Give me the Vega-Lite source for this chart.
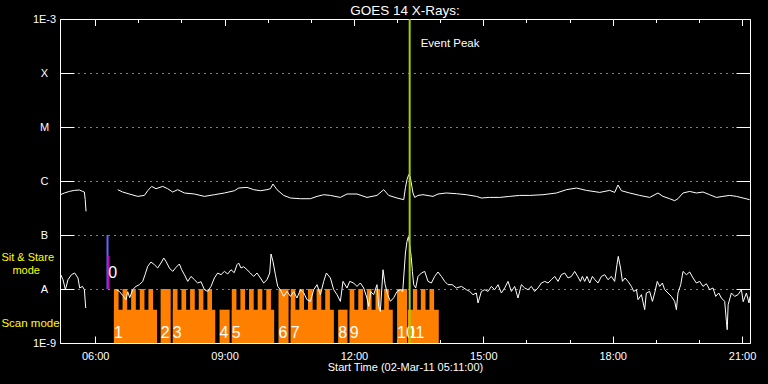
{
  "$schema": "https://vega.github.io/schema/vega-lite/v6.json",
  "width": 690,
  "height": 324,
  "autosize": {"type": "none"},
  "padding": {"left": 60, "top": 19, "right": 18, "bottom": 41},
  "background": "black",
  "title": {"text": "GOES 14 X-Rays:", "color": "white", "font": "Liberation Sans", "fontSize": 13.5, "fontWeight": "normal", "anchor": "middle", "offset": -4},
  "config": {
    "view": {"stroke": null},
    "axis": {"labelFont": "Liberation Sans", "labelColor": "white", "labelFontSize": 11, "tickColor": "white", "tickWidth": 1, "domainColor": "white", "domainWidth": 1, "titleFont": "Liberation Sans", "titleColor": "white", "titleFontWeight": "normal", "titleFontSize": 11, "zindex": 1, "grid": false, "labelFlush": false, "labelOverlap": false, "labelBound": false}
  },
  "datasets": {
    "blocks": [
      {"block": "1", "start": 386, "end": 446, "level": -8.383},
      {"block": "2", "start": 451, "end": 465, "level": -8},
      {"block": "3", "start": 468, "end": 527, "level": -8.383},
      {"block": "4", "start": 533, "end": 547, "level": -8.383},
      {"block": "5", "start": 550, "end": 609, "level": -8.383},
      {"block": "6", "start": 615, "end": 629, "level": -8},
      {"block": "7", "start": 632, "end": 692, "level": -8.383},
      {"block": "8", "start": 698, "end": 711, "level": -8.383},
      {"block": "9", "start": 714, "end": 774, "level": -8.383},
      {"block": "10", "start": 780, "end": 794, "level": -8},
      {"block": "11", "start": 795, "end": 838, "level": -8.383}
    ],
    "teeth": [
      {"start": 386, "end": 392.5}, {"start": 398, "end": 404.5}, {"start": 410, "end": 416.5}, {"start": 422, "end": 428.5}, {"start": 434, "end": 440.5},
      {"start": 468, "end": 474.5}, {"start": 480, "end": 486.5}, {"start": 492, "end": 498.5}, {"start": 504, "end": 510.5}, {"start": 516, "end": 522.5},
      {"start": 550, "end": 556.5}, {"start": 562, "end": 568.5}, {"start": 574, "end": 580.5}, {"start": 586, "end": 592.5}, {"start": 598, "end": 604.5},
      {"start": 632, "end": 638.5}, {"start": 644, "end": 650.5}, {"start": 656, "end": 662.5}, {"start": 668, "end": 674.5}, {"start": 680, "end": 686.5},
      {"start": 714, "end": 720.5}, {"start": 726, "end": 732.5}, {"start": 738, "end": 744.5}, {"start": 750, "end": 756.5}, {"start": 762, "end": 768.5},
      {"start": 802, "end": 808}, {"start": 813, "end": 819.5}, {"start": 825, "end": 831.5}
    ],
    "xray": [
      {"series": "long-a", "time": 311.6, "logflux": -6.254},
      {"series": "long-a", "time": 317.1, "logflux": -6.222},
      {"series": "long-a", "time": 324.1, "logflux": -6.193},
      {"series": "long-a", "time": 331.0, "logflux": -6.174},
      {"series": "long-a", "time": 338.0, "logflux": -6.167},
      {"series": "long-a", "time": 342.6, "logflux": -6.193},
      {"series": "long-a", "time": 344.9, "logflux": -6.204},
      {"series": "long-a", "time": 346.1, "logflux": -6.346},
      {"series": "long-a", "time": 347.2, "logflux": -6.563},
      {"series": "long-b", "time": 391.3, "logflux": -6.161},
      {"series": "long-b", "time": 398.2, "logflux": -6.204},
      {"series": "long-b", "time": 407.5, "logflux": -6.241},
      {"series": "long-b", "time": 419.1, "logflux": -6.285},
      {"series": "long-b", "time": 428.4, "logflux": -6.267},
      {"series": "long-b", "time": 433.0, "logflux": -6.180},
      {"series": "long-b", "time": 438.6, "logflux": -6.100},
      {"series": "long-b", "time": 444.6, "logflux": -6.143},
      {"series": "long-b", "time": 453.9, "logflux": -6.100},
      {"series": "long-b", "time": 460.8, "logflux": -6.143},
      {"series": "long-b", "time": 467.8, "logflux": -6.204},
      {"series": "long-b", "time": 474.7, "logflux": -6.161},
      {"series": "long-b", "time": 484.1, "logflux": -6.222},
      {"series": "long-b", "time": 498.0, "logflux": -6.241},
      {"series": "long-b", "time": 511.9, "logflux": -6.285},
      {"series": "long-b", "time": 525.8, "logflux": -6.254},
      {"series": "long-b", "time": 539.7, "logflux": -6.222},
      {"series": "long-b", "time": 553.6, "logflux": -6.180},
      {"series": "long-b", "time": 559.6, "logflux": -6.130},
      {"series": "long-b", "time": 571.2, "logflux": -6.118},
      {"series": "long-b", "time": 580.5, "logflux": -6.161},
      {"series": "long-b", "time": 589.8, "logflux": -6.180},
      {"series": "long-b", "time": 599.0, "logflux": -6.161},
      {"series": "long-b", "time": 603.7, "logflux": -6.143},
      {"series": "long-b", "time": 607.3, "logflux": -6.056},
      {"series": "long-b", "time": 612.9, "logflux": -6.161},
      {"series": "long-b", "time": 622.2, "logflux": -6.267},
      {"series": "long-b", "time": 631.6, "logflux": -6.315},
      {"series": "long-b", "time": 645.5, "logflux": -6.328},
      {"series": "long-b", "time": 659.4, "logflux": -6.328},
      {"series": "long-b", "time": 668.6, "logflux": -6.285},
      {"series": "long-b", "time": 677.9, "logflux": -6.254},
      {"series": "long-b", "time": 687.2, "logflux": -6.267},
      {"series": "long-b", "time": 701.1, "logflux": -6.304},
      {"series": "long-b", "time": 710.3, "logflux": -6.241},
      {"series": "long-b", "time": 724.2, "logflux": -6.241},
      {"series": "long-b", "time": 738.1, "logflux": -6.304},
      {"series": "long-b", "time": 752.0, "logflux": -6.267},
      {"series": "long-b", "time": 761.4, "logflux": -6.161},
      {"series": "long-b", "time": 768.3, "logflux": -6.267},
      {"series": "long-b", "time": 779.9, "logflux": -6.315},
      {"series": "long-b", "time": 789.2, "logflux": -6.346},
      {"series": "long-b", "time": 791.6, "logflux": -6.124},
      {"series": "long-b", "time": 793.8, "logflux": -5.976},
      {"series": "long-b", "time": 796.1, "logflux": -5.883},
      {"series": "long-b", "time": 798.2, "logflux": -5.915},
      {"series": "long-b", "time": 802.1, "logflux": -6.222},
      {"series": "long-b", "time": 804.5, "logflux": -6.304},
      {"series": "long-b", "time": 809.1, "logflux": -6.267},
      {"series": "long-b", "time": 816.0, "logflux": -6.254},
      {"series": "long-b", "time": 830.0, "logflux": -6.285},
      {"series": "long-b", "time": 836.9, "logflux": -6.241},
      {"series": "long-b", "time": 848.6, "logflux": -6.222},
      {"series": "long-b", "time": 862.5, "logflux": -6.235},
      {"series": "long-b", "time": 876.4, "logflux": -6.254},
      {"series": "long-b", "time": 890.3, "logflux": -6.285},
      {"series": "long-b", "time": 897.3, "logflux": -6.315},
      {"series": "long-b", "time": 908.8, "logflux": -6.304},
      {"series": "long-b", "time": 922.8, "logflux": -6.304},
      {"series": "long-b", "time": 936.7, "logflux": -6.285},
      {"series": "long-b", "time": 950.6, "logflux": -6.267},
      {"series": "long-b", "time": 964.5, "logflux": -6.267},
      {"series": "long-b", "time": 983.0, "logflux": -6.254},
      {"series": "long-b", "time": 1001.6, "logflux": -6.222},
      {"series": "long-b", "time": 1015.6, "logflux": -6.161},
      {"series": "long-b", "time": 1029.5, "logflux": -6.130},
      {"series": "long-b", "time": 1043.4, "logflux": -6.174},
      {"series": "long-b", "time": 1061.9, "logflux": -6.211},
      {"series": "long-b", "time": 1075.8, "logflux": -6.174},
      {"series": "long-b", "time": 1082.8, "logflux": -6.211},
      {"series": "long-b", "time": 1087.3, "logflux": -6.074},
      {"series": "long-b", "time": 1092.1, "logflux": -6.180},
      {"series": "long-b", "time": 1103.6, "logflux": -6.222},
      {"series": "long-b", "time": 1117.5, "logflux": -6.267},
      {"series": "long-b", "time": 1131.4, "logflux": -6.304},
      {"series": "long-b", "time": 1143.0, "logflux": -6.222},
      {"series": "long-b", "time": 1149.9, "logflux": -6.285},
      {"series": "long-b", "time": 1159.3, "logflux": -6.328},
      {"series": "long-b", "time": 1166.2, "logflux": -6.365},
      {"series": "long-b", "time": 1170.8, "logflux": -6.328},
      {"series": "long-b", "time": 1177.8, "logflux": -6.222},
      {"series": "long-b", "time": 1187.1, "logflux": -6.193},
      {"series": "long-b", "time": 1196.4, "logflux": -6.222},
      {"series": "long-b", "time": 1205.6, "logflux": -6.204},
      {"series": "long-b", "time": 1214.9, "logflux": -6.254},
      {"series": "long-b", "time": 1224.2, "logflux": -6.304},
      {"series": "long-b", "time": 1233.4, "logflux": -6.285},
      {"series": "long-b", "time": 1242.8, "logflux": -6.267},
      {"series": "long-b", "time": 1252.1, "logflux": -6.285},
      {"series": "long-b", "time": 1261.3, "logflux": -6.315},
      {"series": "long-b", "time": 1270.6, "logflux": -6.346},
      {"series": "short-a", "time": 312.0, "logflux": -7.735},
      {"series": "short-a", "time": 315.2, "logflux": -7.828},
      {"series": "short-a", "time": 318.5, "logflux": -8.013},
      {"series": "short-a", "time": 322.1, "logflux": -7.828},
      {"series": "short-a", "time": 326.9, "logflux": -7.735},
      {"series": "short-a", "time": 331.4, "logflux": -7.704},
      {"series": "short-a", "time": 336.0, "logflux": -7.796},
      {"series": "short-a", "time": 338.4, "logflux": -7.981},
      {"series": "short-a", "time": 342.2, "logflux": -7.952},
      {"series": "short-a", "time": 344.9, "logflux": -8.013},
      {"series": "short-a", "time": 346.8, "logflux": -8.352},
      {"series": "short-b", "time": 389.5, "logflux": -8.013},
      {"series": "short-b", "time": 393.6, "logflux": -8.045},
      {"series": "short-b", "time": 398.2, "logflux": -8.119},
      {"series": "short-b", "time": 402.8, "logflux": -8.198},
      {"series": "short-b", "time": 405.2, "logflux": -8.050},
      {"series": "short-b", "time": 408.0, "logflux": -8.161},
      {"series": "short-b", "time": 412.1, "logflux": -8.013},
      {"series": "short-b", "time": 416.7, "logflux": -7.952},
      {"series": "short-b", "time": 421.5, "logflux": -7.920},
      {"series": "short-b", "time": 426.1, "logflux": -7.859},
      {"series": "short-b", "time": 429.3, "logflux": -7.735},
      {"series": "short-b", "time": 433.0, "logflux": -7.581},
      {"series": "short-b", "time": 437.6, "logflux": -7.500},
      {"series": "short-b", "time": 442.3, "logflux": -7.550},
      {"series": "short-b", "time": 446.9, "logflux": -7.611},
      {"series": "short-b", "time": 451.5, "logflux": -7.519},
      {"series": "short-b", "time": 455.3, "logflux": -7.426},
      {"series": "short-b", "time": 458.5, "logflux": -7.489},
      {"series": "short-b", "time": 463.2, "logflux": -7.611},
      {"series": "short-b", "time": 467.8, "logflux": -7.674},
      {"series": "short-b", "time": 472.4, "logflux": -7.600},
      {"series": "short-b", "time": 477.1, "logflux": -7.537},
      {"series": "short-b", "time": 480.3, "logflux": -7.643},
      {"series": "short-b", "time": 484.1, "logflux": -7.735},
      {"series": "short-b", "time": 488.7, "logflux": -7.859},
      {"series": "short-b", "time": 493.3, "logflux": -7.767},
      {"series": "short-b", "time": 498.0, "logflux": -7.828},
      {"series": "short-b", "time": 502.6, "logflux": -7.889},
      {"series": "short-b", "time": 507.2, "logflux": -7.865},
      {"series": "short-b", "time": 511.9, "logflux": -8.013},
      {"series": "short-b", "time": 516.5, "logflux": -8.045},
      {"series": "short-b", "time": 521.1, "logflux": -7.952},
      {"series": "short-b", "time": 525.8, "logflux": -7.796},
      {"series": "short-b", "time": 530.4, "logflux": -7.704},
      {"series": "short-b", "time": 535.0, "logflux": -7.735},
      {"series": "short-b", "time": 539.7, "logflux": -7.674},
      {"series": "short-b", "time": 544.3, "logflux": -7.722},
      {"series": "short-b", "time": 548.9, "logflux": -7.643},
      {"series": "short-b", "time": 553.4, "logflux": -7.698},
      {"series": "short-b", "time": 557.3, "logflux": -7.550},
      {"series": "short-b", "time": 559.6, "logflux": -7.519},
      {"series": "short-b", "time": 562.8, "logflux": -7.611},
      {"series": "short-b", "time": 566.6, "logflux": -7.587},
      {"series": "short-b", "time": 571.2, "logflux": -7.643},
      {"series": "short-b", "time": 575.9, "logflux": -7.704},
      {"series": "short-b", "time": 580.5, "logflux": -7.767},
      {"series": "short-b", "time": 585.1, "logflux": -7.704},
      {"series": "short-b", "time": 589.8, "logflux": -7.796},
      {"series": "short-b", "time": 594.4, "logflux": -7.889},
      {"series": "short-b", "time": 599.0, "logflux": -7.828},
      {"series": "short-b", "time": 602.8, "logflux": -7.704},
      {"series": "short-b", "time": 604.6, "logflux": -7.352},
      {"series": "short-b", "time": 607.3, "logflux": -7.489},
      {"series": "short-b", "time": 610.7, "logflux": -7.735},
      {"series": "short-b", "time": 613.9, "logflux": -7.952},
      {"series": "short-b", "time": 617.6, "logflux": -8.013},
      {"series": "short-b", "time": 622.2, "logflux": -8.137},
      {"series": "short-b", "time": 626.8, "logflux": -8.045},
      {"series": "short-b", "time": 631.6, "logflux": -8.137},
      {"series": "short-b", "time": 636.2, "logflux": -8.050},
      {"series": "short-b", "time": 640.7, "logflux": -8.167},
      {"series": "short-b", "time": 645.5, "logflux": -8.013},
      {"series": "short-b", "time": 650.1, "logflux": -8.068},
      {"series": "short-b", "time": 654.6, "logflux": -8.198},
      {"series": "short-b", "time": 659.4, "logflux": -8.229},
      {"series": "short-b", "time": 664.0, "logflux": -8.013},
      {"series": "short-b", "time": 668.6, "logflux": -7.920},
      {"series": "short-b", "time": 673.3, "logflux": -8.105},
      {"series": "short-b", "time": 677.9, "logflux": -7.859},
      {"series": "short-b", "time": 681.6, "logflux": -7.704},
      {"series": "short-b", "time": 687.2, "logflux": -7.796},
      {"series": "short-b", "time": 691.8, "logflux": -8.013},
      {"series": "short-b", "time": 696.4, "logflux": -8.105},
      {"series": "short-b", "time": 701.1, "logflux": -8.229},
      {"series": "short-b", "time": 704.7, "logflux": -7.859},
      {"series": "short-b", "time": 710.3, "logflux": -7.981},
      {"series": "short-b", "time": 714.1, "logflux": -7.859},
      {"series": "short-b", "time": 719.6, "logflux": -7.889},
      {"series": "short-b", "time": 724.2, "logflux": -7.952},
      {"series": "short-b", "time": 728.9, "logflux": -7.889},
      {"series": "short-b", "time": 733.5, "logflux": -7.981},
      {"series": "short-b", "time": 738.1, "logflux": -8.167},
      {"series": "short-b", "time": 740.5, "logflux": -8.322},
      {"series": "short-b", "time": 743.3, "logflux": -8.050},
      {"series": "short-b", "time": 747.4, "logflux": -8.105},
      {"series": "short-b", "time": 752.0, "logflux": -7.920},
      {"series": "short-b", "time": 754.4, "logflux": -8.322},
      {"series": "short-b", "time": 756.7, "logflux": -8.415},
      {"series": "short-b", "time": 760.4, "logflux": -7.643},
      {"series": "short-b", "time": 763.4, "logflux": -7.920},
      {"series": "short-b", "time": 766.9, "logflux": -8.105},
      {"series": "short-b", "time": 770.7, "logflux": -8.229},
      {"series": "short-b", "time": 775.3, "logflux": -8.161},
      {"series": "short-b", "time": 779.9, "logflux": -8.045},
      {"series": "short-b", "time": 784.6, "logflux": -8.013},
      {"series": "short-b", "time": 787.8, "logflux": -8.050},
      {"series": "short-b", "time": 791.6, "logflux": -7.333},
      {"series": "short-b", "time": 793.8, "logflux": -7.119},
      {"series": "short-b", "time": 795.7, "logflux": -7.031},
      {"series": "short-b", "time": 797.5, "logflux": -7.180},
      {"series": "short-b", "time": 799.6, "logflux": -7.396},
      {"series": "short-b", "time": 801.3, "logflux": -7.674},
      {"series": "short-b", "time": 803.1, "logflux": -7.920},
      {"series": "short-b", "time": 805.9, "logflux": -7.981},
      {"series": "short-b", "time": 809.1, "logflux": -7.767},
      {"series": "short-b", "time": 813.8, "logflux": -7.704},
      {"series": "short-b", "time": 818.4, "logflux": -7.674},
      {"series": "short-b", "time": 823.0, "logflux": -7.859},
      {"series": "short-b", "time": 827.7, "logflux": -7.889},
      {"series": "short-b", "time": 832.3, "logflux": -7.767},
      {"series": "short-b", "time": 836.9, "logflux": -7.685},
      {"series": "short-b", "time": 841.6, "logflux": -7.767},
      {"series": "short-b", "time": 846.2, "logflux": -7.859},
      {"series": "short-b", "time": 850.8, "logflux": -7.920},
      {"series": "short-b", "time": 856.7, "logflux": -7.920},
      {"series": "short-b", "time": 862.5, "logflux": -7.981},
      {"series": "short-b", "time": 869.5, "logflux": -7.952},
      {"series": "short-b", "time": 876.4, "logflux": -8.013},
      {"series": "short-b", "time": 881.0, "logflux": -8.045},
      {"series": "short-b", "time": 885.6, "logflux": -8.105},
      {"series": "short-b", "time": 890.3, "logflux": -8.074},
      {"series": "short-b", "time": 892.6, "logflux": -8.259},
      {"series": "short-b", "time": 897.3, "logflux": -8.045},
      {"series": "short-b", "time": 901.9, "logflux": -8.013},
      {"series": "short-b", "time": 906.5, "logflux": -8.045},
      {"series": "short-b", "time": 911.2, "logflux": -7.952},
      {"series": "short-b", "time": 915.8, "logflux": -8.013},
      {"series": "short-b", "time": 920.4, "logflux": -7.920},
      {"series": "short-b", "time": 925.1, "logflux": -8.074},
      {"series": "short-b", "time": 929.7, "logflux": -7.981},
      {"series": "short-b", "time": 934.3, "logflux": -7.859},
      {"series": "short-b", "time": 939.0, "logflux": -8.045},
      {"series": "short-b", "time": 943.6, "logflux": -7.952},
      {"series": "short-b", "time": 948.2, "logflux": -8.167},
      {"series": "short-b", "time": 952.9, "logflux": -7.920},
      {"series": "short-b", "time": 957.5, "logflux": -7.981},
      {"series": "short-b", "time": 962.1, "logflux": -8.013},
      {"series": "short-b", "time": 966.8, "logflux": -7.952},
      {"series": "short-b", "time": 971.4, "logflux": -8.045},
      {"series": "short-b", "time": 976.0, "logflux": -7.981},
      {"series": "short-b", "time": 980.8, "logflux": -7.889},
      {"series": "short-b", "time": 985.4, "logflux": -7.859},
      {"series": "short-b", "time": 990.0, "logflux": -7.889},
      {"series": "short-b", "time": 994.7, "logflux": -7.828},
      {"series": "short-b", "time": 999.3, "logflux": -7.767},
      {"series": "short-b", "time": 1003.9, "logflux": -7.859},
      {"series": "short-b", "time": 1008.6, "logflux": -7.735},
      {"series": "short-b", "time": 1013.2, "logflux": -7.704},
      {"series": "short-b", "time": 1017.8, "logflux": -7.796},
      {"series": "short-b", "time": 1022.5, "logflux": -7.767},
      {"series": "short-b", "time": 1027.1, "logflux": -7.674},
      {"series": "short-b", "time": 1031.3, "logflux": -7.767},
      {"series": "short-b", "time": 1035.0, "logflux": -7.859},
      {"series": "short-b", "time": 1037.8, "logflux": -7.767},
      {"series": "short-b", "time": 1041.0, "logflux": -7.859},
      {"series": "short-b", "time": 1044.2, "logflux": -7.767},
      {"series": "short-b", "time": 1048.0, "logflux": -7.889},
      {"series": "short-b", "time": 1051.7, "logflux": -7.767},
      {"series": "short-b", "time": 1055.3, "logflux": -7.828},
      {"series": "short-b", "time": 1059.5, "logflux": -7.889},
      {"series": "short-b", "time": 1064.2, "logflux": -7.767},
      {"series": "short-b", "time": 1068.9, "logflux": -7.735},
      {"series": "short-b", "time": 1073.4, "logflux": -7.828},
      {"series": "short-b", "time": 1078.1, "logflux": -7.767},
      {"series": "short-b", "time": 1082.7, "logflux": -7.859},
      {"series": "short-b", "time": 1085.9, "logflux": -7.550},
      {"series": "short-b", "time": 1087.7, "logflux": -7.396},
      {"series": "short-b", "time": 1090.9, "logflux": -7.611},
      {"series": "short-b", "time": 1093.5, "logflux": -7.859},
      {"series": "short-b", "time": 1097.1, "logflux": -7.796},
      {"series": "short-b", "time": 1101.3, "logflux": -7.859},
      {"series": "short-b", "time": 1106.0, "logflux": -7.952},
      {"series": "short-b", "time": 1109.2, "logflux": -8.045},
      {"series": "short-b", "time": 1113.0, "logflux": -8.013},
      {"series": "short-b", "time": 1115.2, "logflux": -8.198},
      {"series": "short-b", "time": 1119.9, "logflux": -8.105},
      {"series": "short-b", "time": 1124.5, "logflux": -8.383},
      {"series": "short-b", "time": 1126.8, "logflux": -8.074},
      {"series": "short-b", "time": 1131.4, "logflux": -8.045},
      {"series": "short-b", "time": 1135.2, "logflux": -8.229},
      {"series": "short-b", "time": 1138.4, "logflux": -8.074},
      {"series": "short-b", "time": 1142.0, "logflux": -7.859},
      {"series": "short-b", "time": 1145.4, "logflux": -7.952},
      {"series": "short-b", "time": 1149.1, "logflux": -7.889},
      {"series": "short-b", "time": 1152.3, "logflux": -8.013},
      {"series": "short-b", "time": 1156.9, "logflux": -8.074},
      {"series": "short-b", "time": 1161.6, "logflux": -8.137},
      {"series": "short-b", "time": 1166.2, "logflux": -8.229},
      {"series": "short-b", "time": 1168.6, "logflux": -8.383},
      {"series": "short-b", "time": 1170.8, "logflux": -8.074},
      {"series": "short-b", "time": 1174.6, "logflux": -7.920},
      {"series": "short-b", "time": 1177.8, "logflux": -7.674},
      {"series": "short-b", "time": 1182.5, "logflux": -7.735},
      {"series": "short-b", "time": 1187.1, "logflux": -7.685},
      {"series": "short-b", "time": 1191.7, "logflux": -7.796},
      {"series": "short-b", "time": 1196.4, "logflux": -7.889},
      {"series": "short-b", "time": 1201.0, "logflux": -7.859},
      {"series": "short-b", "time": 1205.6, "logflux": -7.952},
      {"series": "short-b", "time": 1210.3, "logflux": -7.902},
      {"series": "short-b", "time": 1214.9, "logflux": -8.013},
      {"series": "short-b", "time": 1219.5, "logflux": -7.981},
      {"series": "short-b", "time": 1223.3, "logflux": -8.137},
      {"series": "short-b", "time": 1227.5, "logflux": -8.074},
      {"series": "short-b", "time": 1231.2, "logflux": -8.167},
      {"series": "short-b", "time": 1235.8, "logflux": -8.229},
      {"series": "short-b", "time": 1238.2, "logflux": -8.605},
      {"series": "short-b", "time": 1239.3, "logflux": -8.754},
      {"series": "short-b", "time": 1240.6, "logflux": -8.291},
      {"series": "short-b", "time": 1245.1, "logflux": -8.074},
      {"series": "short-b", "time": 1249.7, "logflux": -8.137},
      {"series": "short-b", "time": 1254.3, "logflux": -8.105},
      {"series": "short-b", "time": 1259.0, "logflux": -8.013},
      {"series": "short-b", "time": 1261.5, "logflux": -8.235},
      {"series": "short-b", "time": 1266.0, "logflux": -8.074},
      {"series": "short-b", "time": 1269.6, "logflux": -8.259},
      {"series": "short-b", "time": 1271.0, "logflux": -8.137}
    ]
  },
  "layer": [
    {
      "data": {"name": "blocks"},
      "mark": {"type": "rect", "color": "#ff8000"},
      "encoding": {
        "x": {"field": "start", "type": "quantitative", "scale": {"domain": [311, 1271], "nice": false, "zero": false},
          "axis": {"orient": "bottom", "values": [360, 540, 720, 900, 1080, 1260], "labelExpr": "(floor(datum.value/60) < 10 ? '0' : '') + floor(datum.value/60) + ':00'", "tickSize": -7, "labelPadding": 14, "domain": true, "title": "Start Time (02-Mar-11 05:11:00)", "titlePadding": 0}},
        "x2": {"field": "end"},
        "y": {"field": "level", "type": "quantitative", "scale": {"domain": [-9, -3], "nice": false, "zero": false},
          "axis": {"orient": "left", "values": [-9, -8, -7, -6, -5, -4, -3], "labelExpr": "datum.value == -3 ? '1E-3' : datum.value == -4 ? 'X' : datum.value == -5 ? 'M' : datum.value == -6 ? 'C' : datum.value == -7 ? 'B' : datum.value == -8 ? 'A' : '1E-9'", "tickSize": -14, "labelPadding": 30, "labelAlign": "center", "labelBaseline": "middle", "domain": true, "grid": true, "gridColor": "white", "gridDash": [1, 5], "gridWidth": 1, "gridOpacity": 1, "title": null}},
        "y2": {"datum": -9}
      }
    },
    {
      "data": {"name": "teeth"},
      "mark": {"type": "rect", "color": "#ff8000"},
      "encoding": {
        "x": {"field": "start", "type": "quantitative", "scale": {"domain": [311, 1271], "nice": false, "zero": false}, "axis": null},
        "x2": {"field": "end"},
        "y": {"datum": -8, "type": "quantitative", "scale": {"domain": [-9, -3], "nice": false, "zero": false}, "axis": null},
        "y2": {"datum": -9}
      }
    },
    {
      "data": {"name": "blocks"},
      "mark": {"type": "text", "color": "white", "font": "Liberation Sans", "fontSize": 16, "align": "left", "baseline": "alphabetic"},
      "encoding": {
        "x": {"field": "start", "type": "quantitative", "scale": {"domain": [311, 1271], "nice": false, "zero": false},
          "axis": {"orient": "bottom", "values": [360, 420, 480, 540, 600, 660, 720, 780, 840, 900, 960, 1020, 1080, 1140, 1200, 1260], "labels": false, "tickSize": -3.5, "domain": false, "title": null}},
        "y": {"datum": -8.9, "type": "quantitative", "scale": {"domain": [-9, -3], "nice": false, "zero": false}, "axis": null},
        "text": {"field": "block"}
      }
    },
    {
      "data": {"name": "xray"},
      "mark": {"type": "line", "color": "white", "strokeWidth": 1},
      "encoding": {
        "x": {"field": "time", "type": "quantitative", "scale": {"domain": [311, 1271], "nice": false, "zero": false},
          "axis": {"orient": "top", "values": [360, 540, 720, 900, 1080, 1260], "labels": false, "tickSize": -6.5, "domain": true, "title": null}},
        "y": {"field": "logflux", "type": "quantitative", "scale": {"domain": [-9, -3], "nice": false, "zero": false},
          "axis": {"orient": "right", "values": [-9, -8, -7, -6, -5, -4, -3], "labels": false, "tickSize": -14, "domain": true, "grid": false, "title": null}},
        "detail": {"field": "series"}
      }
    },
    {
      "data": {"values": [{"mode": "Sit & Stare", "time": 377.1}]},
      "mark": {"type": "rule", "color": "#6464ff", "strokeWidth": 2},
      "encoding": {
        "x": {"field": "time", "type": "quantitative", "scale": {"domain": [311, 1271], "nice": false, "zero": false},
          "axis": {"orient": "top", "values": [360, 420, 480, 540, 600, 660, 720, 780, 840, 900, 960, 1020, 1080, 1140, 1200, 1260], "labels": false, "tickSize": -3.5, "domain": false, "title": null}},
        "y": {"datum": -7, "type": "quantitative", "scale": {"domain": [-9, -3], "nice": false, "zero": false}, "axis": null},
        "y2": {"datum": -8}
      }
    },
    {
      "data": {"values": [{"mode": "Sit & Stare", "time": 378.3}]},
      "mark": {"type": "rule", "color": "#c800c8", "strokeWidth": 2},
      "encoding": {
        "x": {"field": "time", "type": "quantitative", "scale": {"domain": [311, 1271], "nice": false, "zero": false}, "axis": null},
        "y": {"datum": -7.383, "type": "quantitative", "scale": {"domain": [-9, -3], "nice": false, "zero": false}, "axis": null},
        "y2": {"datum": -8}
      }
    },
    {
      "data": {"values": [{"label": "0", "time": 378.1}]},
      "mark": {"type": "text", "color": "white", "font": "Liberation Sans", "fontSize": 16, "align": "left", "baseline": "alphabetic"},
      "encoding": {
        "x": {"field": "time", "type": "quantitative", "scale": {"domain": [311, 1271], "nice": false, "zero": false}, "axis": null},
        "y": {"datum": -7.791, "type": "quantitative", "scale": {"domain": [-9, -3], "nice": false, "zero": false}, "axis": null},
        "text": {"field": "label"}
      }
    },
    {
      "data": {"values": [{"label": "Event Peak", "time": 797.5}]},
      "mark": {"type": "rule", "color": "#a0d000", "strokeWidth": 2},
      "encoding": {
        "x": {"field": "time", "type": "quantitative", "scale": {"domain": [311, 1271], "nice": false, "zero": false}, "axis": null},
        "y": {"datum": -3, "type": "quantitative", "scale": {"domain": [-9, -3], "nice": false, "zero": false}, "axis": null},
        "y2": {"datum": -9}
      }
    },
    {
      "data": {"values": [{"label": "Event Peak", "time": 797.5}]},
      "mark": {"type": "text", "color": "white", "font": "Liberation Sans", "fontSize": 11.5, "align": "left", "baseline": "alphabetic", "dx": 11},
      "encoding": {
        "x": {"field": "time", "type": "quantitative", "scale": {"domain": [311, 1271], "nice": false, "zero": false}, "axis": null},
        "y": {"datum": -3.513, "type": "quantitative", "scale": {"domain": [-9, -3], "nice": false, "zero": false}, "axis": null},
        "text": {"field": "label"}
      }
    },
    {
      "data": {"values": [{"label": "Sit & Stare", "time": 229.5}]},
      "mark": {"type": "text", "color": "#ffff00", "font": "Liberation Sans", "fontSize": 11, "align": "left", "baseline": "middle"},
      "encoding": {
        "x": {"field": "time", "type": "quantitative", "scale": {"domain": [311, 1271], "nice": false, "zero": false}, "axis": null},
        "y": {"datum": -7.435, "type": "quantitative", "scale": {"domain": [-9, -3], "nice": false, "zero": false}, "axis": null},
        "text": {"field": "label"}
      }
    },
    {
      "data": {"values": [{"label": "mode", "time": 244.8}]},
      "mark": {"type": "text", "color": "#ffff00", "font": "Liberation Sans", "fontSize": 11, "align": "left", "baseline": "middle"},
      "encoding": {
        "x": {"field": "time", "type": "quantitative", "scale": {"domain": [311, 1271], "nice": false, "zero": false}, "axis": null},
        "y": {"datum": -7.665, "type": "quantitative", "scale": {"domain": [-9, -3], "nice": false, "zero": false}, "axis": null},
        "text": {"field": "label"}
      }
    },
    {
      "data": {"values": [{"label": "Scan mode", "time": 229.5}]},
      "mark": {"type": "text", "color": "#ffff00", "font": "Liberation Sans", "fontSize": 11.5, "align": "left", "baseline": "middle"},
      "encoding": {
        "x": {"field": "time", "type": "quantitative", "scale": {"domain": [311, 1271], "nice": false, "zero": false}, "axis": null},
        "y": {"datum": -8.643, "type": "quantitative", "scale": {"domain": [-9, -3], "nice": false, "zero": false}, "axis": null},
        "text": {"field": "label"}
      }
    }
  ],
  "resolve": {"axis": {"x": "independent", "y": "independent"}}
}
